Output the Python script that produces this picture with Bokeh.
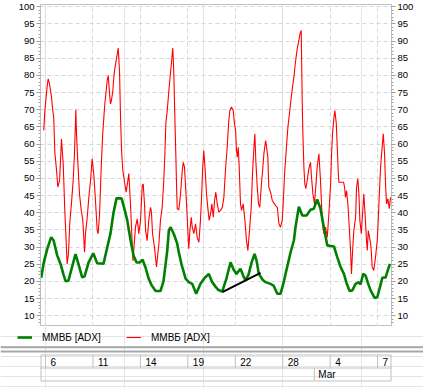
from bokeh.plotting import figure
from bokeh.layouts import column
from bokeh.models import (Range1d, LinearAxis, SingleIntervalTicker, FixedTicker,
                          Grid, Legend, LegendItem, Span)
from bokeh.core.properties import value
from bokeh.embed import file_html
from bokeh.resources import INLINE

# ---------------- data ----------------
series_name = "ММВБ [ADX]"
date_ticks = [0, 3, 6, 9, 12, 15, 18, 21]          # trading-day index
date_labels = ["6", "11", "14", "19", "22", "28", "4", "7"]
month_ticks = [17]
month_labels = ["Mar"]

green_x = [-0.27, -0.11, 0.11, 0.36, 0.51, 0.74, 0.95, 1.14, 1.27, 1.45,
           1.64, 1.90, 2.09, 2.32, 2.47, 2.72, 3.02, 3.27, 3.67, 3.86,
           4.11, 4.30, 4.49, 4.81, 5.00, 5.17, 5.38, 5.57, 5.76, 5.95,
           6.14, 6.33, 6.51, 6.70, 6.96, 7.27, 7.46, 7.70, 7.80, 7.91,
           8.11, 8.33, 8.43, 8.60, 8.86, 9.06, 9.28, 9.53, 9.80, 10.06,
           10.33, 10.54, 10.75, 10.94, 11.18, 11.45, 11.70, 11.89, 12.08, 12.33,
           12.52, 12.65, 12.84, 13.03, 13.22, 13.35, 13.49, 13.73, 13.92, 14.23,
           14.42, 14.66, 14.86, 15.05, 15.18, 15.50, 15.71, 15.81, 16.02, 16.24,
           16.51, 16.76, 16.97, 17.18, 17.39, 17.60, 17.82, 18.24, 18.45, 18.66,
           18.87, 19.04, 19.23, 19.40, 19.61, 19.82, 19.92, 20.09, 20.24, 20.43,
           20.56, 20.81, 20.98, 21.13, 21.30, 21.51, 21.63, 21.78]
green_y = [21.1, 25.5, 29.5, 32.9, 32, 27.6, 25.1, 22, 20.1, 20.2,
           23.5, 28, 25, 21.2, 21.5, 25.5, 28.2, 25.3, 25.2, 29,
           34, 40, 44.2, 44.2, 41, 37.8, 32, 27.5, 25.5, 25.5,
           26.3, 24, 21, 19, 17.2, 17.2, 20, 29, 34.8, 35.8,
           33.9, 31, 28.5, 25, 20.8, 19.8, 19.3, 16.4, 19.3, 21,
           22.2, 19.8, 18.5, 17.5, 17.1, 21, 25.6, 23.5, 22.2, 23.7,
           21.5, 20.3, 22, 25.5, 28, 26, 22.2, 20.5, 19.8, 19.3,
           18.8, 16.4, 16.4, 19.5, 22.2, 28.5, 32, 35.8, 41.8, 39.2,
           39.2, 40.9, 41.2, 43.9, 41.2, 35.8, 30.5, 30.2, 27.1, 24.2,
           22.2, 19.5, 17.2, 17.4, 19.3, 19.8, 19.1, 22.2, 21.7, 19,
           17.4, 15.2, 15.4, 18, 21.1, 21.2, 23, 25.1]

red_x = [-0.11, -0.04, 0.04, 0.11, 0.17, 0.25, 0.32, 0.38, 0.46, 0.52,
         0.59, 0.70, 0.78, 0.89, 0.95, 1.01, 1.12, 1.22, 1.37, 1.45,
         1.54, 1.64, 1.75, 1.83, 1.92, 1.96, 2.04, 2.15, 2.26, 2.36,
         2.47, 2.53, 2.64, 2.74, 2.85, 2.95, 3.05, 3.16, 3.27, 3.33,
         3.42, 3.48, 3.54, 3.62, 3.69, 3.75, 3.84, 3.90, 3.97, 4.05,
         4.11, 4.17, 4.26, 4.32, 4.38, 4.47, 4.54, 4.60, 4.68, 4.74,
         4.81, 4.89, 5.00, 5.10, 5.21, 5.27, 5.38, 5.53, 5.69, 5.80,
         5.90, 6.01, 6.12, 6.18, 6.26, 6.33, 6.43, 6.53, 6.64, 6.70,
         6.77, 6.89, 7.02, 7.17, 7.27, 7.38, 7.48, 7.55, 7.61, 7.70,
         7.76, 7.84, 7.91, 7.97, 8.05, 8.11, 8.18, 8.24, 8.29, 8.33,
         8.43, 8.54, 8.65, 8.71, 8.79, 8.86, 8.92, 9.00, 9.06, 9.13,
         9.22, 9.28, 9.38, 9.49, 9.59, 9.70, 9.80, 9.87, 9.93, 10.01,
         10.10, 10.18, 10.27, 10.35, 10.44, 10.52, 10.61, 10.69, 10.77, 10.86,
         10.96, 11.07, 11.18, 11.28, 11.38, 11.49, 11.59, 11.66, 11.76, 11.87,
         11.95, 12.02, 12.08, 12.13, 12.19, 12.25, 12.33, 12.40, 12.50, 12.61,
         12.71, 12.80, 12.90, 13.01, 13.09, 13.18, 13.24, 13.30, 13.39, 13.47,
         13.55, 13.64, 13.73, 13.81, 13.92, 13.98, 14.06, 14.12, 14.23, 14.34,
         14.55, 14.66, 14.76, 14.86, 14.97, 15.03, 15.12, 15.22, 15.33, 15.45,
         15.54, 15.62, 15.71, 15.77, 15.86, 15.92, 16.02, 16.09, 16.17, 16.24,
         16.27, 16.34, 16.40, 16.46, 16.55, 16.65, 16.76, 16.82, 16.91, 17.01,
         17.12, 17.18, 17.29, 17.39, 17.50, 17.60, 17.71, 17.82, 17.92, 18.03,
         18.09, 18.15, 18.24, 18.30, 18.39, 18.45, 18.51, 18.55, 18.85, 18.91,
         18.97, 19.04, 19.12, 19.21, 19.29, 19.35, 19.40, 19.46, 19.50, 19.61,
         19.67, 19.75, 19.82, 19.88, 19.97, 20.05, 20.13, 20.22, 20.30, 20.35,
         20.41, 20.49, 20.56, 20.60, 20.66, 20.76, 20.87, 20.98, 21.04, 21.13,
         21.19, 21.27, 21.36, 21.44, 21.51, 21.57, 21.65, 21.74, 21.82]
red_y = [64, 69.8, 73.7, 77, 79, 77.6, 75.6, 73.7, 69.8, 67.8,
         57.6, 52.3, 47.5, 49.4, 55.2, 61.5, 54.3, 40.7, 25.1, 28,
         37.3, 42.6, 49.4, 57, 70, 63, 55.2, 45.5, 40.7, 37.8,
         28.5, 33.9, 38.7, 44.5, 49.4, 55.7, 51.4, 43.6, 34.8, 33.9,
         39.7, 47.5, 55.2, 63, 67.8, 71.7, 75.6, 78.5, 80, 74.7,
         71.7, 72.7, 75.6, 79.5, 81.9, 84.4, 86.3, 88, 81.4, 68.8,
         58.1, 52.3, 48.9, 46, 49.4, 51.4, 42, 26, 35.8, 38.2,
         33.9, 37.8, 48, 48.4, 42.6, 34.8, 31.9, 37.8, 41.6, 40.2,
         33.9, 30, 24.2, 31, 37.8, 41.6, 49.4, 57.2, 66, 69.8,
         73.2, 77.6, 81, 83.9, 88, 81.4, 67.8, 57.2, 47.5, 41.2,
         40.9, 45.5, 52.3, 54.7, 53.3, 47.5, 42.6, 34.8, 29.5, 34.8,
         38.7, 35.8, 33.9, 36.8, 32.9, 31.4, 37.8, 44.5, 52.3, 58.1,
         52.3, 45.5, 41.2, 37.8, 39.7, 42.6, 38.7, 43.6, 46, 42.6,
         40.2, 40.7, 41.6, 44.5, 52.3, 59.1, 66.9, 69.8, 70.8, 69.8,
         65.9, 64, 58.1, 56.2, 59.1, 53.3, 42.6, 40.7, 42.6, 37.8,
         31.9, 29, 34.8, 41.6, 51.4, 59.1, 63, 55.2, 47.5, 42.6,
         41.6, 47.5, 52.3, 57.2, 61, 59.1, 56.2, 47.5, 46, 43.6,
         42.1, 41.6, 36.8, 35.8, 37.8, 42.6, 51.4, 58.1, 65, 69.8,
         73.7, 76.6, 79.5, 82.4, 85.8, 87.8, 90.2, 92.1, 93.1, 70.8,
         64, 53.3, 48.4, 47, 49.4, 52.8, 54.7, 50.4, 45.5, 42.6,
         49.4, 53.3, 57.2, 49.4, 37.8, 33.9, 35.8, 32.9, 39.7, 48.4,
         57.2, 63, 67.8, 69.8, 65.9, 59.1, 52.3, 48.9, 48.9, 47.5,
         44.5, 46.5, 42.6, 35.8, 29, 22.2, 27.1, 32, 34.8, 38.7,
         47.5, 49.9, 45.5, 37.8, 33.9, 39.7, 45.5, 38.7, 31.9, 29,
         34.8, 32.9, 31, 29, 24.2, 23.2, 27.1, 32, 37.8, 47.5,
         53.3, 58.1, 63, 57.2, 47.5, 42.6, 44.1, 41.2, 44.5]

trend_x = [11.18, 13.6]
trend_y = [16.9, 22.5]

# ---------------- layout constants ----------------
X0, X1 = -0.316, 21.88
Y0, Y1 = 6.88, 100.67
W = 423
FL, FR, FT = 40, 32, 4
H1 = 326
H2 = 62
GREEN = "#008000"
RED = "#ff0000"
FRAME = "#c0c0c0"
GRID = "#d8d8d8"
FONT = "Liberation Sans"
GREEN_W = 2.6
RED_W = 1.1

# ---------------- main chart ----------------
p = figure(width=W, height=H1, x_range=Range1d(X0, X1), y_range=Range1d(Y0, Y1),
           output_backend="svg", toolbar_location=None,
           x_axis_location=None, y_axis_location="left",
           min_border_left=FL, min_border_right=FR,
           min_border_top=FT, min_border_bottom=0)
p.frame_align = False
p.outline_line_color = FRAME
p.background_fill_color = "white"
p.border_fill_color = "white"

yt = SingleIntervalTicker(interval=5, num_minor_ticks=5)


def style_axis(ax):
    ax.ticker = yt
    ax.axis_line_color = FRAME
    ax.major_tick_line_color = "#a0a0a0"
    ax.minor_tick_line_color = "#a0a0a0"
    ax.major_tick_in = 0
    ax.major_tick_out = 4
    ax.minor_tick_in = 0
    ax.minor_tick_out = 2
    ax.major_label_standoff = 2
    ax.major_label_text_font = FONT
    ax.major_label_text_font_size = "9.5px"
    ax.major_label_text_color = "black"


style_axis(p.yaxis[0])
right_axis = LinearAxis()
style_axis(right_axis)
p.add_layout(right_axis, "right")

p.ygrid.ticker = yt
p.ygrid.grid_line_color = GRID
p.ygrid.grid_line_dash = "4 3"
p.add_layout(Grid(dimension=0, ticker=FixedTicker(ticks=date_ticks),
                  grid_line_color=GRID, grid_line_dash="4 3"))

p.line(red_x, red_y, line_color=RED, line_width=RED_W)
p.line(green_x, green_y, line_color=GREEN, line_width=GREEN_W)
p.line(trend_x, trend_y, line_color="black", line_width=2)

# ---------------- legend + date strip (own full-width frame) ----------------
dx = (X1 - X0) / (W - FL - FR)
p2 = figure(width=W, height=H2, x_range=Range1d(X0 - FL * dx, X1 + FR * dx),
            y_range=Range1d(H2, 0), output_backend="svg", toolbar_location=None,
            x_axis_location=None, y_axis_location=None,
            min_border_left=0, min_border_right=0,
            min_border_top=0, min_border_bottom=0)
p2.frame_align = False
p2.outline_line_color = None
p2.background_fill_color = "white"
p2.border_fill_color = "white"

# legend renderers carry the styles; their data lies outside the visible range
g_leg = p2.line(x=[X0, X0], y=[-100, -100], line_color=GREEN, line_width=GREEN_W)
r_leg = p2.line(x=[X0, X0], y=[-100, -100], line_color=RED, line_width=RED_W)
legend = Legend(items=[LegendItem(label=series_name, renderers=[g_leg]),
                       LegendItem(label=series_name, renderers=[r_leg])],
                location=(17, 45), orientation="horizontal",
                glyph_width=15, glyph_height=12, label_height=12, label_width=74,
                label_standoff=10, spacing=10, padding=0, margin=0,
                border_line_alpha=0, background_fill_alpha=0,
                label_text_font=FONT, label_text_font_size="10px",
                label_text_color="black")
p2.add_layout(legend)

# full-width double separator
for loc in [20.7, 25.0]:
    p2.add_layout(Span(location=loc, dimension="width", line_color="#a8a8a8",
                       line_width=2))

p2.quad(left=[X0 + 0.5 * dx], right=[X1 - 0.5 * dx], top=[28.5], bottom=[54.5],
        fill_color=None, line_color=FRAME, line_width=1)
p2.segment(x0=[X0], x1=[X1], y0=[41.5], y1=[41.5], line_color=FRAME, line_width=1)
p2.segment(x0=date_ticks, x1=date_ticks, y0=[28.5] * len(date_ticks),
           y1=[41.5] * len(date_ticks), line_color=FRAME, line_width=1)
p2.text(x=date_ticks, y=[35.3] * len(date_ticks), text=date_labels, x_offset=5,
        text_align="left", text_baseline="middle", text_font=value(FONT),
        text_font_size="10px", text_color="black")
p2.segment(x0=month_ticks, x1=month_ticks, y0=[41.5] * len(month_ticks),
           y1=[54.5] * len(month_ticks), line_color=FRAME, line_width=1)
p2.text(x=month_ticks, y=[48.3] * len(month_ticks), text=month_labels, x_offset=4,
        text_align="left", text_baseline="middle", text_font=value(FONT),
        text_font_size="10px", text_color="black")

layout = column(p, p2)
open("out.html", "w").write(file_html(layout, INLINE))
